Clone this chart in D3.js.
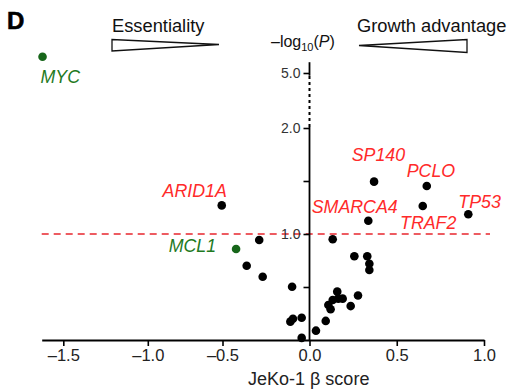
<!DOCTYPE html>
<html><head><meta charset="utf-8">
<script src="https://cdn.jsdelivr.net/npm/d3@7"></script>
<style>
body{margin:0;background:#fff;}
svg{display:block;font-family:"Liberation Sans",Arial,sans-serif;}
</style></head>
<body>
<svg id="c" width="512" height="390"></svg>
<script>
// ---- data ----
const genes = ["MYC","ARID1A","MCL1","SMARCA4","SP140","PCLO","TRAF2","TP53"];
const geneBeta = [-1.625,-0.505,-0.422,0.337,0.37,0.672,0.649,0.91];
const geneLogP = [5.45,1.27,0.858,1.125,1.494,1.453,1.264,1.186];
const geneGroup = ["ess","up","ess","up","up","up","up","up"];
const otherBeta = [-0.289,-0.361,-0.269,-0.10,-0.11,-0.095,-0.045,-0.045,
  0.037,0.093,0.108,0.121,0.133,0.159,0.165,0.19,0.236,0.278,0.257,0.331,0.343,0.343,0.133];
const otherLogP = [0.943,0.70,0.597,0.503,0.173,0.20,0.21,0.02,
  0.088,0.18,0.33,0.29,0.377,0.456,0.39,0.39,0.32,0.42,0.79,0.79,0.72,0.66,0.95];
const xTicks = [-1.5,-1.0,-0.5,0,0.5,1.0];
const yTicks = [0.5,1.0,1.5,2.0,5.0];
const yLabeled = [1.0,2.0,5.0];
const threshold = 1.0;

// ---- layout (label offsets, not data) ----
const labelLayout = {
  MYC:{dx:-2,dy:26,anchor:"start"},
  ARID1A:{dx:5,dy:-8,anchor:"end"},
  MCL1:{dx:-20,dy:3,anchor:"end"},
  SMARCA4:{dx:-56.6,dy:-7.4,anchor:"start"},
  SP140:{dx:-22.3,dy:-20.7,anchor:"start"},
  PCLO:{dx:-20,dy:-9,anchor:"start"},
  TRAF2:{dx:-22.7,dy:23.3,anchor:"start"},
  TP53:{dx:-10,dy:-6,anchor:"start"}
};
const RED="#ff2a2a", GREEN="#1f7a1f", DOTGREEN="#17661a";

const svg = d3.select("#c");
const x = d3.scaleLinear().domain([-1.63,-1.5,-1.0,-0.5,0,1.0]).range([41.7,63.3,147.8,222.5,309.5,484]);
const y = d3.scaleLinear().domain([0,2,5,5.5]).range([340,128,73,55]);

// panel letter
svg.append("text").attr("x",7).attr("y",28.5).attr("font-size",24).attr("font-weight","bold")
  .attr("stroke","#000").attr("stroke-width",0.6).text("D");

// threshold line
svg.append("line").attr("x1",x(-1.63)).attr("x2",490).attr("y1",y(threshold)).attr("y2",y(threshold))
  .attr("stroke","#e8262e").attr("stroke-width",1.3).attr("stroke-dasharray","7,5");

// x axis
const xa = svg.append("g").attr("transform",`translate(0,${y(0)})`)
  .call(d3.axisBottom(x).tickValues(xTicks).tickSize(6).tickSizeOuter(0).tickPadding(3)
    .tickFormat(d => d<0 ? "\u2013"+Math.abs(d).toFixed(1) : d.toFixed(1)));
xa.select(".domain").attr("stroke","#000").attr("stroke-width",1.8);
xa.selectAll(".tick line").attr("stroke","#000").attr("stroke-width",1.6);
xa.selectAll(".tick text").attr("font-size",16.5).attr("fill","#222").attr("font-family","Liberation Sans, Arial, sans-serif");

// y axis
const ya = svg.append("g").attr("transform",`translate(${x(0)},0)`)
  .call(d3.axisLeft(y).tickValues(yTicks).tickSize(6).tickSizeOuter(0).tickPadding(3)
    .tickFormat(d => yLabeled.includes(d) ? d.toFixed(1) : ""));
ya.select(".domain").remove();
ya.selectAll(".tick line").attr("stroke","#000").attr("stroke-width",1.6);
ya.selectAll(".tick text").attr("font-size",14).attr("fill","#333").attr("font-family","Liberation Sans, Arial, sans-serif");
const segs = [[0,2.06,null],[2.06,4.85,"3,3"],[4.85,5.3,null]];
segs.forEach(s=>{
  ya.append("line").attr("x1",0).attr("x2",0).attr("y1",y(s[0])).attr("y2",y(s[1]))
    .attr("stroke","#000").attr("stroke-width",s[2]?2:1.8).attr("stroke-dasharray",s[2]);
});

// axis titles
svg.append("text").attr("x",308.7).attr("y",385).attr("text-anchor","middle").attr("font-size",18).attr("fill","#222")
  .text("JeKo-1 \u03b2 score");
const yl = svg.append("text").attr("x",271).attr("y",46.5).attr("font-size",16).attr("fill","#111");
yl.append("tspan").text("\u2013log");
yl.append("tspan").attr("font-size",11).attr("dy",4).text("10");
yl.append("tspan").attr("dy",-4).text("(");
yl.append("tspan").attr("font-style","italic").text("P");
yl.append("tspan").text(")");

// direction triangles
svg.append("text").attr("x",112).attr("y",31.5).attr("font-size",18.3).attr("fill","#111").text("Essentiality");
svg.append("polygon").attr("points","112,39.5 112,51 219,44.5 ").attr("fill","#fff").attr("stroke","#111").attr("stroke-width",1.3);
svg.append("text").attr("x",357).attr("y",32).attr("font-size",18.3).attr("fill","#111").text("Growth advantage");
svg.append("polygon").attr("points","359,45.5 467,39.5 467,52.5").attr("fill","#fff").attr("stroke","#111").attr("stroke-width",1.3);

// other points
svg.append("g").selectAll("circle").data(otherBeta.map((b,i)=>({b,p:otherLogP[i]}))).join("circle")
  .attr("cx",d=>x(d.b)).attr("cy",d=>y(d.p)).attr("r",4.3).attr("fill","#000");

// labelled genes
const gd = genes.map((g,i)=>({g,b:geneBeta[i],p:geneLogP[i],grp:geneGroup[i]}));
svg.append("g").selectAll("circle").data(gd).join("circle")
  .attr("cx",d=>x(d.b)).attr("cy",d=>y(d.p)).attr("r",4.3)
  .attr("fill",d=>d.grp==="ess"?DOTGREEN:"#000");
svg.append("g").selectAll("text").data(gd).join("text")
  .attr("x",d=>x(d.b)+labelLayout[d.g].dx).attr("y",d=>y(d.p)+labelLayout[d.g].dy)
  .attr("text-anchor",d=>labelLayout[d.g].anchor)
  .attr("font-size",17.8).attr("font-style","italic")
  .attr("fill",d=>d.grp==="ess"?GREEN:RED).text(d=>d.g);
</script>
</body></html>
